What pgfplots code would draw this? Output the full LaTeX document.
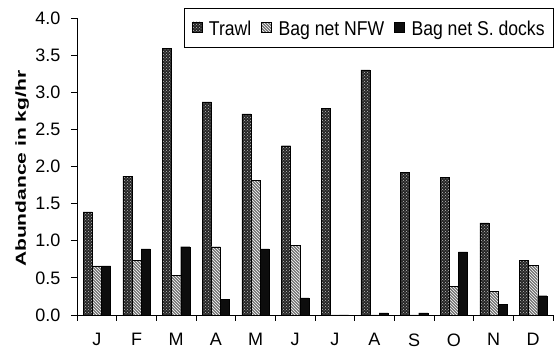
\documentclass[border=0pt]{standalone}
\usepackage{fontspec}
\setmainfont{Liberation Sans}
\usepackage{pgfplots}
\pgfplotsset{compat=1.18}
\usetikzlibrary{patterns}
\newcommand{\legtxt}[1]{\scalebox{0.88}[1]{#1}}
\begin{document}
\begin{tikzpicture}
\begin{axis}[
  scale only axis, width=476pt, height=297pt,
  ybar=0pt, bar width=0.23,
  xmin=-0.5, xmax=11.5, ymin=0, ymax=4,
  axis lines*=left, axis line style={-, line width=0.8pt},
  xtick={0,...,11},
  xticklabels={J,F,M,A,M,J,J,A,S,O,N,D},
  minor xtick={-0.5,0.5,...,11.5},
  major x tick style={draw=none},
  minor x tick style={line width=0.8pt, black},
  minor tick length=6pt,
  ytick={0,0.5,...,4},
  y tick style={line width=0.8pt, black},
  major tick length=6pt,
  tick align=outside,
  yticklabel style={/pgf/number format/.cd, fixed, fixed zerofill, precision=1, /tikz/.cd, xshift=-7pt},
  xticklabel style={yshift=-9pt},
  /pgf/number format/assume math mode=true,
  tick label style={font=\fontsize{18}{21}\selectfont},
  ylabel={\scalebox{1.45}[1]{\bfseries Abundance in kg/hr}},
  ylabel style={font=\fontsize{14.5}{17}\selectfont, at={(axis description cs:-0.115,0.492)}, anchor=center},
  legend columns=3,
  legend style={at={(rel axis cs:1,1)}, anchor=north east, yshift=10pt, xshift=1pt,
    font=\fontsize{20}{23}\selectfont, draw=black, line width=0.8pt, inner xsep=7pt, inner ysep=5pt,
    nodes={inner sep=2pt, text height=20pt, text depth=5pt},
    /tikz/every even column/.append style={column sep=8pt},
    /tikz/every odd column/.append style={column sep=5pt}},
  legend image code/.code={\draw[#1, line width=0.3pt] (0pt,-4pt) rectangle (10pt,6pt);},
]
\addplot[fill=black!85, draw=black, line width=0.3pt, postaction={pattern=crosshatch dots, pattern color=white!75!black}] coordinates {
 (0,1.39) (1,1.87) (2,3.59) (3,2.87) (4,2.71) (5,2.28) (6,2.78) (7,3.30) (8,1.92) (9,1.85) (10,1.24) (11,0.74)};
\addplot[fill=black!55, draw=black, line width=0.3pt, postaction={pattern=north west lines, pattern color=white}] coordinates {
 (0,0.66) (1,0.74) (2,0.53) (3,0.92) (4,1.81) (5,0.94) (6,0) (7,0) (8,0) (9,0.39) (10,0.32) (11,0.67)};
\addplot[fill=black!95, draw=black, line width=0.3pt] coordinates {
 (0,0.66) (1,0.89) (2,0.92) (3,0.21) (4,0.89) (5,0.23) (6,0) (7,0.03) (8,0.03) (9,0.85) (10,0.14) (11,0.26)};
\legend{\legtxt{Trawl}, \legtxt{Bag net NFW}, \legtxt{Bag net S. docks}}
\end{axis}
\pgfresetboundingbox
\path (current axis.south west) ++(-77pt,-35pt) rectangle ++(555pt,350pt);
\end{tikzpicture}
\end{document}
